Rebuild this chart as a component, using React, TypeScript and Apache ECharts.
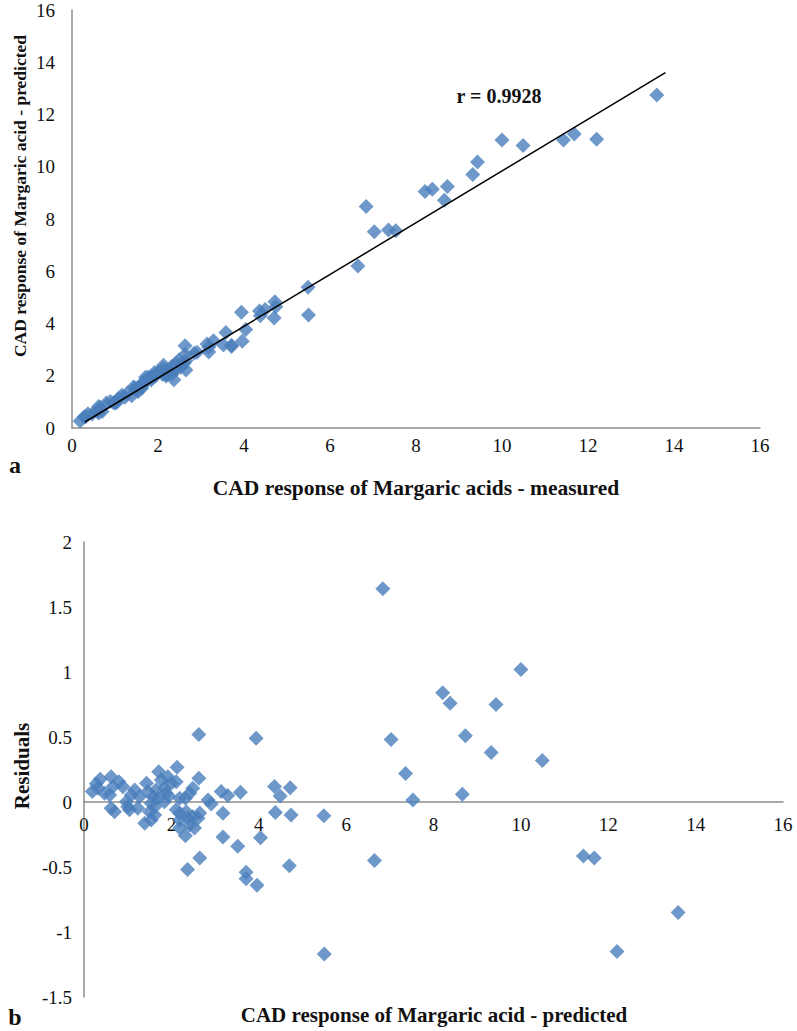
import React, { useEffect, useRef } from "react";
import * as echarts from "echarts";

// Panel a: measured vs predicted
const measured = [
  0.19, 0.28, 0.32, 0.37, 0.47, 0.59, 0.62, 0.66, 0.8, 0.89, 0.62, 0.7, 0.97, 1.08, 1.0, 1.04, 1.16, 1.27, 1.23, 1.43,
  1.46, 1.39, 1.5, 1.54, 1.59, 1.71, 1.77, 1.65, 1.69, 1.62, 1.62, 1.54, 1.92, 1.84, 1.88, 1.84, 2.13, 2.11, 2.0, 1.94,
  2.19, 2.32, 2.42, 2.49, 2.63, 2.84, 2.91, 2.11, 2.19, 2.34, 2.19, 2.38, 2.49, 2.61, 2.42, 2.53, 2.19, 2.32, 2.37, 2.65,
  2.63, 2.65, 3.14, 3.29, 3.58, 3.18, 3.18, 3.52, 4.04, 3.71, 3.71, 3.96, 3.94, 4.36, 4.72, 4.49, 4.38, 4.74, 4.7, 5.49,
  5.5, 6.65, 6.84, 7.03, 7.36, 7.53, 8.21, 8.38, 8.66, 8.73, 9.32, 9.43, 10.0, 10.49, 11.43, 11.68, 12.2, 13.6,
];
const predicted = [
  0.27, 0.42, 0.43, 0.55, 0.54, 0.64, 0.82, 0.78, 0.96, 1.01, 0.57, 0.63, 0.97, 1.13, 0.96, 0.98, 1.25, 1.31, 1.18, 1.57,
  1.54, 1.23, 1.43, 1.53, 1.63, 1.94, 1.94, 1.74, 1.72, 1.58, 1.52, 1.4, 2.12, 1.95, 1.95, 1.84, 2.4, 2.27, 2.14, 1.99,
  2.22, 2.35, 2.49, 2.6, 2.81, 2.86, 2.9, 2.05, 2.1, 2.27, 2.05, 2.26, 2.38, 2.49, 2.24, 2.33, 1.99, 2.06, 1.85, 2.22,
  3.15, 2.57, 3.22, 3.34, 3.66, 3.09, 2.91, 3.18, 3.77, 3.17, 3.12, 3.32, 4.43, 4.48, 4.83, 4.54, 4.3, 4.64, 4.21, 5.39,
  4.33, 6.2, 8.48, 7.51, 7.58, 7.55, 9.05, 9.14, 8.72, 9.24, 9.7, 10.18, 11.02, 10.81, 11.02, 11.25, 11.05, 12.75,
];
const fitX = [0.3, 13.8];
const fitY = [0.23, 13.6];

// Panel b: residuals
const residX = [
  0.19, 0.28, 0.32, 0.37, 0.47, 0.59, 0.62, 0.66, 0.8, 0.89, 0.62, 0.7, 0.97, 1.08, 1.0, 1.04, 1.16, 1.27, 1.23, 1.43,
  1.46, 1.39, 1.5, 1.54, 1.59, 1.71, 1.77, 1.65, 1.69, 1.62, 1.62, 1.54, 1.92, 1.84, 1.88, 1.84, 2.13, 2.11, 2.0, 1.94,
  2.19, 2.32, 2.42, 2.49, 2.63, 2.84, 2.91, 2.11, 2.19, 2.34, 2.19, 2.38, 2.49, 2.61, 2.42, 2.53, 2.19, 2.32, 2.37, 2.65,
  2.63, 2.65, 3.14, 3.29, 3.58, 3.18, 3.18, 3.52, 4.04, 3.71, 3.71, 3.96, 3.94, 4.36, 4.72, 4.49, 4.38, 4.74, 4.7, 5.49,
  5.5, 6.65, 6.84, 7.03, 7.36, 7.53, 8.21, 8.38, 8.66, 8.73, 9.32, 9.43, 10.0, 10.49, 11.43, 11.68, 12.2, 13.6,
];
const residY = [
  0.08, 0.14, 0.105, 0.175, 0.067, 0.054, 0.195, 0.118, 0.156, 0.118, -0.048, -0.075, 0.002, 0.054, -0.036, -0.06, 0.092,
  0.04, -0.048, 0.144, 0.08, -0.164, -0.075, -0.01, 0.04, 0.233, 0.17, 0.092, 0.028, -0.036, -0.1, -0.138, 0.195, 0.105,
  0.067, 0.002, 0.267, 0.156, 0.144, 0.046, 0.028, 0.028, 0.067, 0.105, 0.182, 0.015, -0.015, -0.06, -0.087, -0.075,
  -0.138, -0.125, -0.113, -0.125, -0.177, -0.2, -0.2, -0.26, -0.52, -0.43, 0.52, -0.085, 0.08, 0.05, 0.075, -0.087,
  -0.27, -0.34, -0.275, -0.54, -0.59, -0.64, 0.49, 0.12, 0.11, 0.046, -0.08, -0.1, -0.49, -0.105, -1.17, -0.45, 1.64,
  0.48, 0.22, 0.015, 0.84, 0.76, 0.06, 0.51, 0.38, 0.75, 1.02, 0.32, -0.415, -0.43, -1.15, -0.85,
];

const topXTicks = { min: 0, max: 16, interval: 2 };
const topYTicks = { min: 0, max: 16, interval: 2 };
const botXTicks = { min: 0, max: 16, interval: 2 };
const botYTicks = { min: -1.5, max: 2, interval: 0.5 };

const FONT = "'Liberation Serif', 'Times New Roman', serif";
const BLUE = "#4A7EBB";
const AXIS = "#8C8C8C";

const BOT_TOP = 542;
const BOT_H = 455;

export default function App() {
  const ref = useRef<HTMLDivElement>(null);
  useEffect(() => {
    if (!ref.current) return;
    const chart = echarts.init(ref.current, null, { renderer: "svg" });
    const labelStyle = { color: "#111", fontFamily: FONT, fontSize: 19 };
    const bold = (size: number) => ({ fill: "#111", font: `bold ${size}px ${FONT}` });
    // distance (px) from the bottom of grid 2 up to its zero line
    const zeroOffset =
      (BOT_H * (0 - botYTicks.min)) / (botYTicks.max - botYTicks.min);
    chart.setOption({
      animation: false,
      backgroundColor: "#fff",
      grid: [
        { left: 72, top: 10, width: 688, height: 418 },
        { left: 84, top: BOT_TOP, width: 699, height: BOT_H },
      ],
      xAxis: [
        {
          gridIndex: 0, type: "value", ...topXTicks,
          splitLine: { show: false }, axisTick: { show: false },
          axisLine: { show: true, lineStyle: { color: AXIS, width: 1.5 } },
          axisLabel: { ...labelStyle, margin: 8 },
        },
        {
          gridIndex: 1, type: "value", ...botXTicks,
          position: "bottom",
          offset: -zeroOffset,
          splitLine: { show: false }, axisTick: { show: false },
          axisLine: { show: true, onZero: false, lineStyle: { color: AXIS, width: 1.5 } },
          axisLabel: { ...labelStyle, margin: 13 },
        },
      ],
      yAxis: [
        {
          gridIndex: 0, type: "value", ...topYTicks,
          splitLine: { show: false }, axisTick: { show: false },
          axisLine: { show: true, lineStyle: { color: AXIS, width: 1.5 } },
          axisLabel: { ...labelStyle, margin: 17 },
        },
        {
          gridIndex: 1, type: "value", ...botYTicks,
          splitLine: { show: false }, axisTick: { show: false },
          axisLine: { show: true, lineStyle: { color: AXIS, width: 1.5 } },
          axisLabel: { ...labelStyle, margin: 12 },
        },
      ],
      series: [
        {
          type: "scatter", xAxisIndex: 0, yAxisIndex: 0,
          symbol: "diamond", symbolSize: 15,
          itemStyle: { color: BLUE },
          data: measured.map((x, i) => [x, predicted[i]]),
        },
        {
          type: "line", xAxisIndex: 0, yAxisIndex: 0,
          symbol: "none", lineStyle: { color: "#000", width: 1.5 },
          data: fitX.map((x, i) => [x, fitY[i]]),
          z: 5,
        },
        {
          type: "scatter", xAxisIndex: 1, yAxisIndex: 1,
          symbol: "diamond", symbolSize: 15,
          itemStyle: { color: BLUE },
          data: residX.map((x, i) => [x, residY[i]]),
        },
      ],
      graphic: [
        { type: "text", x: 499, y: 96, style: { text: "r = 0.9928", ...bold(20), align: "center", verticalAlign: "middle" } },
        { type: "text", x: 416, y: 488, style: { text: "CAD response of Margaric acids - measured", ...bold(21.5), align: "center", verticalAlign: "middle" } },
        { type: "text", x: 20, y: 196, rotation: Math.PI / 2, style: { text: "CAD response of Margaric acid - predicted", ...bold(17.5), align: "center", verticalAlign: "middle" } },
        { type: "text", x: 15, y: 465, style: { text: "a", fill: "#111", font: `bold 24px ${FONT}`, align: "center", verticalAlign: "middle" } },
        { type: "text", x: 22, y: 766, rotation: Math.PI / 2, style: { text: "Residuals", ...bold(21), align: "center", verticalAlign: "middle" } },
        { type: "text", x: 434, y: 1015, style: { text: "CAD response of Margaric acid - predicted", ...bold(21), align: "center", verticalAlign: "middle" } },
        { type: "text", x: 15, y: 1017, style: { text: "b", fill: "#111", font: `bold 24px ${FONT}`, align: "center", verticalAlign: "middle" } },
      ],
    });
    return () => chart.dispose();
  }, []);
  return (
    <div
      ref={ref}
      style={{ position: "absolute", left: 0, top: 0, width: 797, height: 1031 }}
    />
  );
}
